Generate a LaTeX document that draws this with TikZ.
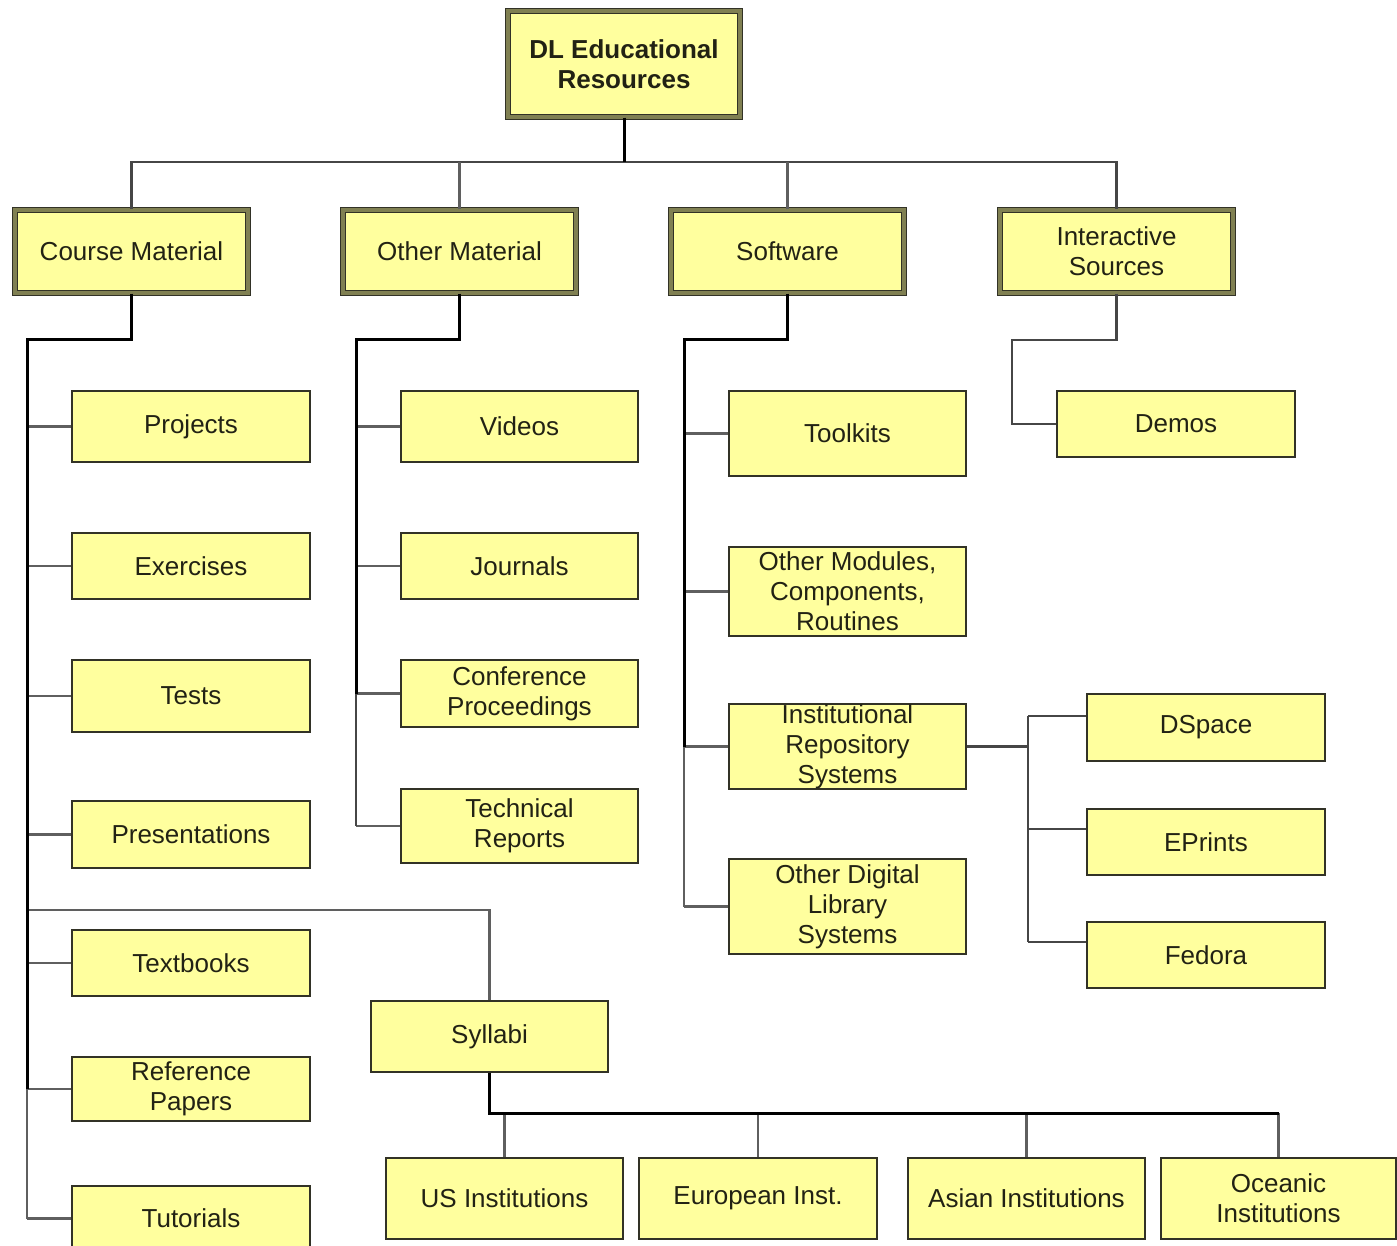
\documentclass[tikz,border=0pt]{standalone}
\usepackage{fontspec}
\setmainfont{Liberation Sans}
\usetikzlibrary{calc}
\definecolor{boxfill}{RGB}{255,255,158}
\definecolor{boxline}{RGB}{50,50,38}
\definecolor{oliveband}{RGB}{128,128,82}
\definecolor{txt}{RGB}{34,34,20}
\definecolor{greyline}{RGB}{95,95,95}
\definecolor{darkgrey}{RGB}{70,70,70}
\tikzset{
  box/.style={draw=boxline, line width=1.8pt, fill=boxfill, text=txt, align=center,
    inner sep=0pt, font=\fontsize{26}{30}\selectfont},
  headbox/.style={draw=boxline, line width=1.2pt, double=oliveband, double distance=3.5pt,
    fill=boxfill, text=txt, align=center, inner sep=0pt, font=\fontsize{26}{30}\selectfont},
  blk/.style={draw=black, line width=3pt},
  gry/.style={draw=greyline, line width=2.6pt},
  dgry/.style={draw=darkgrey, line width=2.6pt},
}
\begin{document}
\begin{tikzpicture}[x=1pt,y=-1pt]
\useasboundingbox (0,0) rectangle (1397,1246);
\fill[white] (0,0) rectangle (1397,1246);

% coordinates
\coordinate (h0) at (624,162);
\coordinate (cmT) at (27,340);
\coordinate (omT) at (356,340);
\coordinate (swT) at (684,340);
\coordinate (isT) at (1012,340);
\coordinate (irsT) at (1028,746.5);
\coordinate (sylJ) at (27,910);
\coordinate (sb) at (489.5,1113);

% root
\node[headbox, minimum width=232pt, minimum height=106pt, font=\fontsize{26}{30}\selectfont\bfseries] (root) at (624,64) {DL Educational\\Resources};

% level 1
\node[headbox, minimum width=233pt, minimum height=83pt] (cm) at (131.5,251.5) {Course Material};
\node[headbox, minimum width=233pt, minimum height=83pt] (om) at (459.5,251.5) {Other Material};
\node[headbox, minimum width=233pt, minimum height=83pt] (sw) at (787.5,251.5) {Software};
\node[headbox, minimum width=233pt, minimum height=83pt] (is) at (1116.5,251.5) {Interactive\\Sources};

% course material children
\node[box, minimum width=238pt, minimum height=71pt] (proj) at (191,426.5) {Projects};
\node[box, minimum width=238pt, minimum height=66pt] (exer) at (191,566) {Exercises};
\node[box, minimum width=238pt, minimum height=72pt] (tests) at (191,696) {Tests};
\node[box, minimum width=238pt, minimum height=67pt] (pres) at (191,834.5) {Presentations};
\node[box, minimum width=238pt, minimum height=66pt] (text) at (191,963) {Textbooks};
\node[box, minimum width=238pt, minimum height=64pt] (ref) at (191,1089) {Reference\\Papers};
\node[box, minimum width=238pt, minimum height=65pt] (tut) at (191,1218.5) {Tutorials};

% other material children
\node[box, minimum width=237pt, minimum height=71pt] (vid) at (519.5,426.5) {Videos};
\node[box, minimum width=237pt, minimum height=66pt] (jour) at (519.5,566) {Journals};
\node[box, minimum width=237pt, minimum height=67pt] (conf) at (519.5,693.5) {Conference\\Proceedings};
\node[box, minimum width=237pt, minimum height=74pt] (tech) at (519.5,826) {Technical\\Reports};

% software children
\node[box, minimum width=237pt, minimum height=85pt] (tool) at (847.5,433.5) {Toolkits};
\node[box, minimum width=237pt, minimum height=89pt] (omod) at (847.5,591.5) {Other Modules,\\Components,\\Routines};
\node[box, minimum width=237pt, minimum height=85pt] (irs) at (847.5,746.5) {Institutional\\Repository\\Systems};
\node[box, minimum width=237pt, minimum height=95pt] (odls) at (847.5,906.5) {Other Digital\\Library\\Systems};

% repository systems
\node[box, minimum width=238pt, minimum height=67pt] (dsp) at (1206,727.5) {DSpace};
\node[box, minimum width=238pt, minimum height=66pt] (epr) at (1206,842) {EPrints};
\node[box, minimum width=238pt, minimum height=66pt] (fed) at (1206,955) {Fedora};

% interactive
\node[box, minimum width=238pt, minimum height=66pt] (demo) at (1176,424) {Demos};

% syllabi
\node[box, minimum width=237pt, minimum height=71pt] (syl) at (489.5,1036.5) {Syllabi};
\node[box, minimum width=237pt, minimum height=81pt] (us) at (504.5,1198.5) {US Institutions};
\node[box, minimum width=238pt, minimum height=81pt] (eu) at (758,1198.5) {European Inst.};
\node[box, minimum width=237pt, minimum height=81pt] (as) at (1026.5,1198.5) {Asian Institutions};
\node[box, minimum width=235pt, minimum height=81pt] (oc) at (1278.5,1198.5) {Oceanic\\Institutions};

% root connectors
\draw[dgry] (cm.north) -- (cm.north |- h0) -- (is.north |- h0) -- (is.north);
\draw[gry] (om.north) -- (om.north |- h0);
\draw[gry] (sw.north) -- (sw.north |- h0);
\draw[blk] (root.south) -- (h0);

% course material
\foreach \n in {proj,exer,tests,pres,text,ref,tut}
  \draw[gry] (cmT |- \n.west) -- (\n.west);
\draw[gry] (sylJ) -| (syl.north);
\draw[gry] (cmT |- ref.west) -- (cmT |- tut.west);
\draw[blk] (cm.south) |- (cmT) -- (cmT |- ref.west);

% other material
\foreach \n in {vid,jour,conf,tech}
  \draw[gry] (omT |- \n.west) -- (\n.west);
\draw[dgry] (omT |- conf.west) -- (omT |- tech.west);
\draw[blk] (om.south) |- (omT) -- (omT |- conf.west);

% software
\foreach \n in {tool,omod,irs,odls}
  \draw[gry] (swT |- \n.west) -- (\n.west);
\draw[gry] (swT |- irs.west) -- (swT |- odls.west);
\draw[blk] (sw.south) |- (swT) -- (swT |- irs.west);

% interactive
\draw[dgry] (is.south) |- (isT) |- (demo.west);

% repository systems
\draw[dgry] (irs.east) -- (irsT);
\draw[dgry] ($(irsT |- dsp.north)+(0,23)$) -- ($(irsT |- fed.north)+(0,21)$);
\draw[dgry] ($(irsT |- dsp.north)+(0,23)$) -- ($(dsp.north west)+(0,23)$);
\draw[dgry] ($(irsT |- epr.north)+(0,21)$) -- ($(epr.north west)+(0,21)$);
\draw[dgry] ($(irsT |- fed.north)+(0,21)$) -- ($(fed.north west)+(0,21)$);

% syllabi
\foreach \n in {us,eu,as,oc}
  \draw[gry] (\n.north) -- (\n.north |- sb);
\draw[blk] (syl.south) -- (sb) -- (sb -| oc.north);
\end{tikzpicture}
\end{document}
